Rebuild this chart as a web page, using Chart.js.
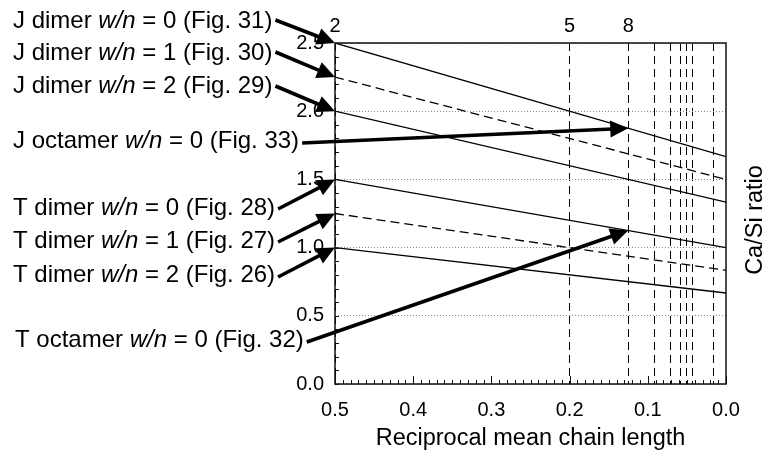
<!DOCTYPE html>
<html><head><meta charset="utf-8">
<script src="https://cdn.jsdelivr.net/npm/chart.js@4.4.0/dist/chart.umd.min.js"></script>
<style>html,body{margin:0;padding:0;background:#fff;}canvas{display:block;}</style>
</head><body>
<canvas id="c" width="767" height="455"></canvas>
<script>
const FONT = 'Arial, "Liberation Sans", Helvetica, sans-serif';

// ---- data ----
const reciprocalChainLength = [0.5, 0.0];
const jDimerW0 = [2.5, 1.667];
const jDimerW1 = [2.25, 1.5];
const jDimerW2 = [2.0, 1.333];
const tDimerW0 = [1.5, 1.0];
const tDimerW1 = [1.25, 0.833];
const tDimerW2 = [1.0, 0.667];
// octamer points (mean chain length 8)
const octamerX = 0.125;
const jOctamerW0 = 1.875;
const tOctamerW0 = 1.125;
// mean chain lengths marked with vertical dashed lines
const chainLengths = [2, 5, 8, 11, 14, 17, 20, 23, 62];
const labelledChainLengths = [2, 5, 8];

// annotation texts and their targets
const annName = ['J dimer', 'J dimer', 'J dimer', 'J octamer', 'T dimer', 'T dimer', 'T dimer', 'T octamer'];
const annWn = ['0', '1', '2', '0', '0', '1', '2', '0'];
const annFig = ['31', '30', '29', '33', '28', '27', '26', '32'];
const annTargetX = [0.5, 0.5, 0.5, octamerX, 0.5, 0.5, 0.5, octamerX];
const annTargetY = [jDimerW0[0], jDimerW1[0], jDimerW2[0], jOctamerW0, tDimerW0[0], tDimerW1[0], tDimerW2[0], tOctamerW0];

// ---- layout (pixels) ----
const annTextX = [13, 13, 13, 13, 13, 13, 13, 15];
const annBaseline = [28, 60, 93, 148, 215, 248, 282, 347];
const annStartDy = [-8, -8, -7, -5, -6, -6, -5, -5];

function toPts(ys) { return reciprocalChainLength.map((x, i) => ({x: x, y: ys[i]})); }
function ds(ys, dashed) {
  return {data: toPts(ys), borderColor: '#000', borderWidth: 1.3, pointRadius: 0,
          borderDash: dashed ? [9, 5] : [], fill: false, tension: 0};
}

const frameAndDecor = {
  id: 'frameAndDecor',
  afterDatasetsDraw(chart) {
    const ctx = chart.ctx, a = chart.chartArea;
    const xs = chart.scales.x, ys = chart.scales.y;
    ctx.save();
    // frame
    ctx.strokeStyle = '#111'; ctx.lineWidth = 1.5; ctx.setLineDash([]);
    ctx.strokeRect(a.left, a.top, a.right - a.left, a.bottom - a.top);
    // minor ticks x (inside, pointing up)
    ctx.lineWidth = 1;
    ctx.beginPath();
    for (let i = 0; i <= 50; i++) {
      const px = Math.round(xs.getPixelForValue(i / 100)) + 0.5;
      const len = (i % 10 === 0) ? 8 : 4;
      ctx.moveTo(px, a.bottom); ctx.lineTo(px, a.bottom - len);
    }
    // minor ticks y (inside, pointing right)
    for (let i = 0; i <= 25; i++) {
      const py = Math.round(ys.getPixelForValue(i / 10)) + 0.5;
      ctx.moveTo(a.left, py); ctx.lineTo(a.left + 4, py);
    }
    ctx.stroke();

    // right axis title
    ctx.fillStyle = '#000';
    ctx.font = '23.5px ' + FONT;
    ctx.save();
    ctx.translate(756, 220);
    ctx.rotate(-Math.PI / 2);
    ctx.textAlign = 'center'; ctx.textBaseline = 'middle';
    ctx.fillText('Ca/Si ratio', 0, 0);
    ctx.restore();

    // annotations
    ctx.textBaseline = 'alphabetic'; ctx.textAlign = 'left';
    const normal = '24px ' + FONT, italic = 'italic 24px ' + FONT;
    for (let i = 0; i < annName.length; i++) {
      let x = annTextX[i];
      const y = annBaseline[i];
      const parts = [[annName[i] + ' ', normal], ['w/n', italic], [' = ' + annWn[i] + ' (Fig. ' + annFig[i] + ')', normal]];
      for (const [t, f] of parts) {
        ctx.font = f; ctx.fillText(t, x, y); x += ctx.measureText(t).width;
      }
      const sx = x + 3, sy = y + annStartDy[i];
      const tx = xs.getPixelForValue(annTargetX[i]), ty = ys.getPixelForValue(annTargetY[i]);
      drawArrow(ctx, sx, sy, tx, ty);
    }
    ctx.restore();
  }
};

function drawArrow(ctx, sx, sy, tx, ty) {
  const dx = tx - sx, dy = ty - sy, L = Math.hypot(dx, dy);
  const ux = dx / L, uy = dy / L;
  const hl = 18, hw = 8.5;
  const bx = tx - ux * hl, by = ty - uy * hl;
  ctx.strokeStyle = '#000'; ctx.lineWidth = 3.6; ctx.lineCap = 'butt';
  ctx.beginPath(); ctx.moveTo(sx, sy); ctx.lineTo(bx + ux * 2, by + uy * 2); ctx.stroke();
  ctx.fillStyle = '#000';
  ctx.beginPath();
  ctx.moveTo(tx, ty);
  ctx.lineTo(bx - uy * hw, by + ux * hw);
  ctx.lineTo(bx + uy * hw, by - ux * hw);
  ctx.closePath(); ctx.fill();
}

new Chart(document.getElementById('c'), {
  type: 'line',
  data: {
    datasets: [ds(jDimerW0, false), ds(jDimerW1, true), ds(jDimerW2, false),
               ds(tDimerW0, false), ds(tDimerW1, true), ds(tDimerW2, false)]
  },
  options: {
    responsive: false, animation: false, events: [],
    layout: {padding: {left: 0, right: 41, top: 0, bottom: 0}},
    plugins: {legend: {display: false}, tooltip: {enabled: false}},
    scales: {
      x: {
        type: 'linear', position: 'bottom', min: 0, max: 0.5, reverse: true,
        ticks: {stepSize: 0.1, color: '#000', font: {size: 20, family: FONT}, padding: 14,
                maxRotation: 0, autoSkip: false, callback: v => Number(v).toFixed(1)},
        grid: {display: false, drawTicks: false},
        border: {display: false},
        title: {display: true, text: 'Reciprocal mean chain length', color: '#000',
                font: {size: 23.5, family: FONT}, padding: {top: 0, bottom: 2}},
        afterFit: s => { s.height = 71; }
      },
      x2: {
        type: 'linear', position: 'top', min: 0, max: 0.5, reverse: true,
        afterBuildTicks: s => { s.ticks = chainLengths.map(n => ({value: 1 / n})); },
        ticks: {color: '#000', font: {size: 20, family: FONT}, padding: 5, maxRotation: 0, autoSkip: false,
                callback: (v, i) => labelledChainLengths.includes(chainLengths[i]) ? String(chainLengths[i]) : ''},
        grid: {display: true, drawOnChartArea: true, drawTicks: false, color: '#000', lineWidth: 1},
        border: {display: false, dash: [8, 5]},
        afterFit: s => { s.height = 43; }
      },
      y: {
        type: 'linear', position: 'left', min: 0, max: 2.5,
        ticks: {stepSize: 0.5, color: '#000', font: {size: 20, family: FONT}, padding: 11,
                callback: v => Number(v).toFixed(1)},
        grid: {display: true, drawTicks: false, color: '#8a8a8a', lineWidth: 1},
        border: {display: false, dash: [1, 2]},
        afterFit: s => { s.width = 335; }
      }
    }
  },
  plugins: [frameAndDecor]
});
</script>
</body></html>
